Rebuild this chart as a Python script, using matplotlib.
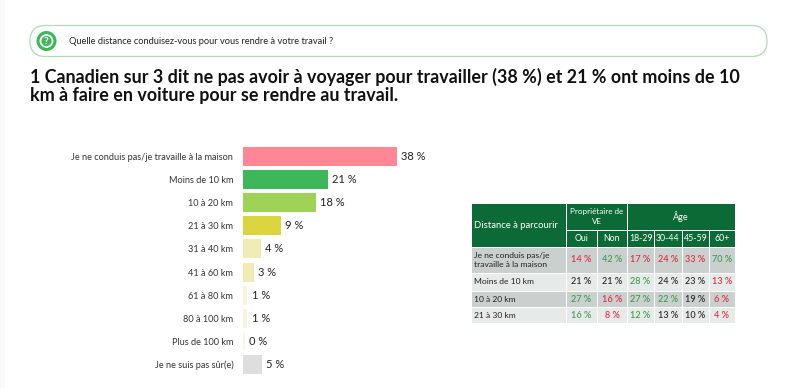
import matplotlib
matplotlib.use("Agg")
import matplotlib.pyplot as plt
from matplotlib.patches import Circle, FancyBboxPatch, Rectangle

W, H = 800, 388
plt.rcParams["font.family"] = ["Lato", "DejaVu Sans"]

# bar chart data
categories = [
    "Je ne conduis pas/je travaille à la maison", "Moins de 10 km", "10 à 20 km",
    "21 à 30 km", "31 à 40 km", "41 à 60 km", "61 à 80 km", "80 à 100 km",
    "Plus de 100 km", "Je ne suis pas sûr(e)",
]
values = [38, 21, 18, 9.3, 4.4, 2.6, 1.1, 1.1, 0.4, 4.6]
value_labels = ["38 %", "21 %", "18 %", "9 %", "4 %", "3 %", "1 %", "1 %", "0 %", "5 %"]
bar_colors = ["#ff8793", "#3db75a", "#9fd355", "#dcd53f", "#efedb4", "#efedb4",
              "#f6f5dc", "#f6f5dc", "#f8f8e8", "#dedede"]

# table data
col_labels = ["Oui", "Non", "18-29", "30-44", "45-59", "60+"]
row_labels = ["Je ne conduis pas/je\ntravaille à la maison", "Moins de 10 km", "10 à 20 km", "21 à 30 km"]
table_values = [
    ["14 %", "42 %", "17 %", "24 %", "33 %", "70 %"],
    ["21 %", "21 %", "28 %", "24 %", "23 %", "13 %"],
    ["27 %", "16 %", "27 %", "22 %", "19 %", "6 %"],
    ["16 %", "8 %", "12 %", "13 %", "10 %", "4 %"],
]
# r = under, g = over, k = no difference
table_signs = ["rgrrrg", "kkgkkr", "grggkr", "grgkkr"]
sign_colors = {"r": "#e0283c", "g": "#3a9a4a", "k": "#222222"}

fig = plt.figure(figsize=(W / 100, H / 100), dpi=100, facecolor="white")

# page layer in pixel coordinates
page = fig.add_axes([0, 0, 1, 1])
page.set_xlim(0, W)
page.set_ylim(H, 0)
page.axis("off")

# faint strip on the left edge
page.add_patch(Rectangle((0, 0), 5, H, fc="#fafafa", ec="none"))

# question box
page.add_patch(FancyBboxPatch((30, 25.5), 737, 31, boxstyle="round,pad=0,rounding_size=15.5",
                              fc="white", ec="#b0dab8", lw=0.9))
page.add_patch(Circle((46.5, 41), 10, fc="#3db75a", ec="none"))
page.add_patch(Circle((46.5, 41), 6, fc="none", ec="white", lw=1.3))
page.text(46.5, 41.3, "?", color="white", fontsize=7.5, fontweight="bold", ha="center", va="center")
page.text(69, 41, "Quelle distance conduisez-vous pour vous rendre à votre travail ?",
          fontsize=6.7, color="#222222", va="center")

# title
page.text(30, 76.5, "1 Canadien sur 3 dit ne pas avoir à voyager pour travailler (38 %) et 21 % ont moins de 10",
          fontsize=12.85, fontweight="bold", color="#111111", va="center")
page.text(30, 95, "km à faire en voiture pour se rendre au travail.",
          fontsize=12.85, fontweight="bold", color="#111111", va="center")

# bars: axes spans the pixel range of the plot
x0, x1, y0, y1 = 243, 400, 145, 376
ax = fig.add_axes([x0 / W, 1 - y1 / H, (x1 - x0) / W, (y1 - y0) / H])
ax.patch.set_alpha(0)
pos = list(range(len(categories)))
ax.barh(pos, values, height=0.82, color=bar_colors)
ax.set_xlim(0, (x1 - x0) / 4.05)
ax.set_ylim(9.5, -0.5)
ax.set_yticks(pos, categories)
ax.set_xticks([])
ax.tick_params(axis="y", length=0, pad=7, labelsize=6.6, labelcolor="#333333")
for s in ax.spines.values():
    s.set_visible(False)
for p, v, lab in zip(pos, values, value_labels):
    ax.annotate(lab, (v, p), xytext=(3.2, 0), textcoords="offset points", va="center",
                fontsize=8, color="#222222", annotation_clip=False)

# table
col_x = [471, 566, 597, 627, 654, 682, 709, 735]
row_y = [203, 230, 247, 273, 291, 307, 323]
GREEN = "#0b6a35"
row_bg = ["#c9d0ce", "#e6eae8", "#c9d0ce", "#e6eae8"]
gap = 0.5


def cell(l, t, r, b, color):
    page.add_patch(Rectangle((l + gap, t + gap), r - l - 2 * gap, b - t - 2 * gap, fc=color, ec="none"))


cell(col_x[0], row_y[0], col_x[1], row_y[2], GREEN)
cell(col_x[1], row_y[0], col_x[3], row_y[1], GREEN)
cell(col_x[3], row_y[0], col_x[7], row_y[1], GREEN)
page.text(474, 225, "Distance à parcourir", color="white", fontsize=6.8, va="center")
page.text((col_x[1] + col_x[3]) / 2, 216.5, "Propriétaire de\nVE", color="white", fontsize=5.8,
          ha="center", va="center", linespacing=1.5)
page.text((col_x[3] + col_x[7]) / 2, 217, "Âge", color="white", fontsize=6.5, ha="center", va="center")
for j, lab in enumerate(col_labels):
    cell(col_x[j + 1], row_y[1], col_x[j + 2], row_y[2], GREEN)
    page.text((col_x[j + 1] + col_x[j + 2]) / 2, 238.5, lab, color="white", fontsize=6.3, ha="center", va="center")
for i, lab in enumerate(row_labels):
    t, b = row_y[i + 2], row_y[i + 3]
    cell(col_x[0], t, col_x[1], b, row_bg[i])
    page.text(474, (t + b) / 2, lab, color="#222222", fontsize=6.1, va="center", linespacing=1.4)
    for j, val in enumerate(table_values[i]):
        cell(col_x[j + 1], t, col_x[j + 2], b, row_bg[i])
        page.text((col_x[j + 1] + col_x[j + 2]) / 2, (t + b) / 2, val, fontsize=6.6, ha="center", va="center",
                  color=sign_colors[table_signs[i][j]], fontweight="medium")

fig.savefig("out.png", dpi=100)
